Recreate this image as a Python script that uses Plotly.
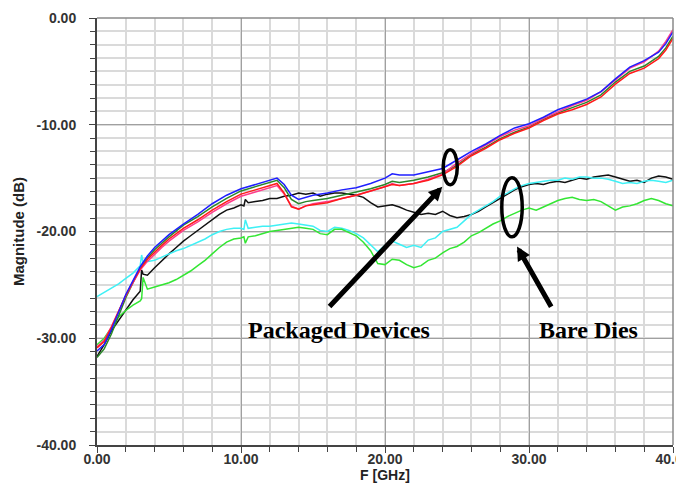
import plotly.graph_objects as go

# ---------------- data ----------------
F_PKG = [0, 0.5, 1, 1.5, 2, 2.5, 3, 3.5, 4, 4.5, 5,
         6, 7, 8, 9, 10, 11, 12,
         12.5, 13, 13.5, 14, 14.5, 15,
         16, 17, 18, 19, 20,
         20.5,
         21, 22, 23, 24, 25, 26, 27, 28, 29, 30, 31, 32, 33, 34, 35, 36, 37, 38, 39,
         39.5, 40]

PKG_BLUE = [-31.2, -30.6, -29.2, -27.5, -25.9, -24.6, -23.3, -22.3, -21.5, -20.9, -20.3,
            -19.3, -18.4, -17.4, -16.6, -16.0, -15.6, -15.2,
            -15.0, -15.6, -16.6, -17.0, -16.8, -16.6,
            -16.4, -16.1, -15.9, -15.5, -15.0,
            -14.6,
            -14.7, -14.7, -14.4, -14.1, -13.3, -12.5, -11.8, -11.0, -10.3, -9.9, -9.3, -8.6, -8.1, -7.6, -6.9, -5.7, -4.6, -4.0, -3.2,
            -2.4, -1.3]

PKG_RED = [-30.9, -30.3, -29.0, -27.5, -26.0, -24.7, -23.5, -22.6, -21.9, -21.3, -20.7,
           -19.7, -18.9, -18.0, -17.2, -16.5, -16.1, -15.7,
           -15.5, -16.4, -17.7, -17.9, -17.6, -17.5,
           -17.3, -16.9, -16.6, -16.2, -15.8,
           -15.6,
           -15.7, -15.5, -15.2, -14.7, -13.9, -12.9, -12.2, -11.4, -10.8, -10.3, -9.6, -9.0, -8.6, -8.1, -7.4, -6.2, -5.2, -4.7, -3.8,
           -3.0, -1.9]

PKG_PINK = [-30.8, -30.2, -28.9, -27.4, -26.0, -24.8, -23.6, -22.8, -22.1, -21.5, -20.9,
            -19.9, -19.1, -18.2, -17.4, -16.7, -16.3, -15.9,
            -15.7, -16.5, -17.6, -17.9, -17.6, -17.4,
            -17.2, -16.9, -16.6, -16.2, -15.8,
            -15.5,
            -15.7, -15.5, -15.1, -14.6, -13.6, -12.7, -11.9, -11.1, -10.5, -10.1, -9.4, -8.8, -8.2, -7.7, -6.9, -5.8, -4.7, -4.1, -3.1,
            -2.2, -1.1]

PKG_DKGREEN = [-31.8, -31.0, -29.6, -27.8, -26.2, -24.8, -23.5, -22.5, -21.7, -21.1, -20.5,
               -19.4, -18.6, -17.7, -16.9, -16.2, -15.8, -15.4,
               -15.2, -15.9, -17.0, -17.4, -17.2, -17.1,
               -16.9, -16.6, -16.3, -16.0, -15.6,
               -15.3,
               -15.4, -15.2, -14.9, -14.5, -13.8, -12.8, -12.1, -11.3, -10.7, -10.2, -9.5, -8.9, -8.4, -7.9, -7.2, -6.0, -5.0, -4.5, -3.6,
               -2.8, -1.7]

F_BARE = [0, 0.5, 1, 1.5, 2, 2.5, 3,
          3.1, 3.2,
          3.5, 4, 4.5, 5, 5.5, 6, 6.5, 7, 7.5, 8, 8.5, 9, 9.5, 10,
          10.2, 10.3,
          10.5, 11, 11.5, 12, 12.5, 13, 13.5, 14, 14.5, 15,
          15.5, 16, 16.5, 17, 17.5, 18, 18.5, 19, 19.5, 20,
          20.5, 21, 21.5, 22, 22.5, 23, 23.5, 24, 24.5, 25,
          25.5, 26, 26.5, 27, 27.5, 28, 28.5, 29, 29.5, 30,
          30.5, 31, 31.5, 32, 32.5, 33, 33.5, 34, 34.5, 35,
          35.5, 36, 36.5, 37, 37.5, 38, 38.5, 39, 39.5, 40]

BARE_BLACK = [-31.7, -30.6, -29.3, -28.3, -27.3, -26.4, -25.6,
              -23.6, -24.0,
              -24.1, -23.4, -22.7, -22.1, -21.5, -20.9, -20.4, -19.9, -19.4, -18.9, -18.4, -18.0, -17.8, -17.5,
              -17.6, -17.0,
              -17.3, -17.2, -17.1, -16.9, -16.9, -16.7, -16.6, -16.4, -16.5, -16.4,
              -16.7, -16.5, -16.4, -16.4, -16.5, -16.6, -16.8, -17.3, -17.7, -17.6,
              -17.5, -17.7, -18.0, -18.2, -18.4, -18.3, -18.4, -18.1, -18.5, -18.7,
              -18.6, -18.4, -18.1, -17.7, -17.3, -16.9, -16.5, -16.1, -15.8, -15.6,
              -15.5, -15.6, -15.4, -15.3, -15.4, -15.2, -15.0, -15.1, -14.9, -14.8,
              -14.7, -14.9, -15.1, -15.3, -15.2, -15.4, -15.0, -14.8, -14.9, -15.1]

BARE_CYAN = [-26.1, -25.7, -25.3, -24.9, -24.4, -23.9, -23.2,
             -22.2, -22.9,
             -22.8, -22.7, -22.4, -22.1, -21.8, -21.6, -21.3, -21.0, -20.7, -20.3, -20.0, -19.8, -19.7, -19.7,
             -19.8, -18.9,
             -19.7, -19.6, -19.5, -19.5, -19.4, -19.3, -19.2, -19.3, -19.4, -19.5,
             -19.9, -20.0, -19.6, -19.7, -19.9, -20.2, -20.6, -21.3, -21.9, -21.3,
             -20.9, -21.2, -21.5, -21.3, -21.5, -20.8, -20.6, -20.0, -19.8, -19.6,
             -19.0, -18.4, -18.0, -17.6, -17.2, -16.7, -16.4, -16.0, -15.7, -15.5,
             -15.4, -15.3, -15.2, -15.2, -15.0, -15.1, -14.9, -14.9, -15.0, -15.0,
             -15.1, -15.3, -15.5, -15.4, -15.5, -15.3, -15.2, -15.3, -15.4, -15.2]

BARE_GREEN = [-30.6, -30.0, -29.0, -28.0, -27.4, -26.9, -26.5,
              -26.3, -24.3,
              -25.4, -25.2, -25.0, -24.8, -24.5, -24.1, -23.7, -23.2, -22.7, -22.1, -21.5, -21.0, -20.7, -20.6,
              -20.5, -21.1,
              -20.5, -20.4, -20.2, -20.0, -19.9, -19.8, -19.7, -19.6, -19.7, -19.8,
              -20.2, -20.3, -19.8, -19.8, -20.1, -20.4, -21.0, -21.8, -23.0, -23.1,
              -22.6, -22.7, -23.1, -23.4, -23.2, -22.7, -22.5, -22.0, -21.6, -21.4,
              -21.0, -20.4, -20.1, -19.7, -19.3, -19.0, -18.6, -18.3, -18.0, -17.8,
              -18.0, -17.7, -17.4, -17.1, -16.9, -16.8, -17.0, -17.1, -17.0, -17.2,
              -17.6, -18.0, -17.7, -17.6, -17.4, -17.1, -16.9, -17.1, -17.4, -17.6]

X_TICKS = [0, 10, 20, 30, 40]
X_TICK_TEXT = ["0.00", "10.00", "20.00", "30.00", "40.00"]
Y_TICKS = [-40, -30, -20, -10, 0]
Y_TICK_TEXT = ["-40.00", "-30.00", "-20.00", "-10.00", "0.00"]

# ---------------- figure ----------------
fig = go.Figure()

series = [
    (F_BARE, BARE_BLACK, "#111111"),
    (F_BARE, BARE_CYAN, "#3ff0f5"),
    (F_BARE, BARE_GREEN, "#33e633"),
    (F_PKG, PKG_DKGREEN, "#2a872a"),
    (F_PKG, PKG_PINK, "#ff3c8c"),
    (F_PKG, PKG_RED, "#ff1a1a"),
    (F_PKG, PKG_BLUE, "#1f1fff"),
]
for xs, ys, col in series:
    fig.add_trace(go.Scatter(x=xs, y=ys, mode="lines",
                             line=dict(color=col, width=1.5),
                             hoverinfo="skip"))

tickfont = dict(family="Liberation Sans, Arial, sans-serif", size=14,
                color="#333333", weight="bold")
xtitlefont = dict(family="Liberation Sans, Arial, sans-serif", size=14,
                  color="#222222", weight="bold")
ytitlefont = dict(family="Liberation Sans, Arial, sans-serif", size=15,
                  color="#222222", weight="bold")

fig.update_xaxes(
    range=[0, 40], tickmode="array", tickvals=X_TICKS, ticktext=X_TICK_TEXT,
    ticks="outside", ticklen=6, tickwidth=1, tickcolor="#444444",
    showline=True, linecolor="#444444", linewidth=2,
    showgrid=True, gridcolor="#a0a0a0", gridwidth=1, zeroline=False,
    minor=dict(dtick=2, tick0=0, showgrid=True, gridcolor="#dadada", gridwidth=1.5,
               ticks="outside", ticklen=5, tickcolor="#444444"),
    tickfont=tickfont, ticklabeloverflow="allow", ticklabelstandoff=-6, automargin=False,
    title=dict(text="F [GHz]", font=xtitlefont, standoff=3),
)
fig.update_yaxes(
    range=[-40, 0], tickmode="array", tickvals=Y_TICKS, ticktext=Y_TICK_TEXT,
    ticks="outside", ticklen=6, tickwidth=1, tickcolor="#444444",
    showline=True, linecolor="#444444", linewidth=2,
    showgrid=True, gridcolor="#a0a0a0", gridwidth=1, zeroline=False,
    minor=dict(dtick=1.25, tick0=0, showgrid=True, gridcolor="#dadada", gridwidth=1.5,
               ticks="outside", ticklen=5, tickcolor="#444444"),
    tickfont=tickfont, ticklabelstandoff=10, ticklabeloverflow="allow", automargin=False,
    title=dict(text="Magnitude (dB)", font=ytitlefont, standoff=8),
)

shapes = [
    dict(type="line", xref="paper", yref="paper", x0=0, x1=1, y0=1, y1=1,
         line=dict(color="#8a8a8a", width=1.5)),
    dict(type="line", xref="paper", yref="paper", x0=1, x1=1, y0=0, y1=1,
         line=dict(color="#8a8a8a", width=1.5)),
    dict(type="circle", xref="x", yref="y", x0=24.04, x1=25.02, y0=-15.62, y1=-12.34,
         line=dict(color="black", width=3.5)),
    dict(type="circle", xref="x", yref="y", x0=28.11, x1=29.53, y0=-20.50, y1=-14.96,
         line=dict(color="black", width=3.5)),
]

label_font = dict(family="Liberation Serif, Times New Roman, serif", size=24,
                  color="black", weight="bold")
annotations = [
    dict(x=23.98, y=-15.81, ax=16.05, ay=-27.16, xref="x", yref="y", axref="x", ayref="y",
         showarrow=True, arrowhead=2, arrowsize=0.55, arrowwidth=5, arrowcolor="black", text=""),
    dict(x=29.17, y=-21.41, ax=31.6, ay=-27.19, xref="x", yref="y", axref="x", ayref="y",
         showarrow=True, arrowhead=2, arrowsize=0.55, arrowwidth=5, arrowcolor="black", text=""),
    dict(x=16.82, y=-29.2, xref="x", yref="y", text="Packaged Devices", showarrow=False,
         font=label_font, xanchor="center", yanchor="middle"),
    dict(x=34.12, y=-29.2, xref="x", yref="y", text="Bare Dies", showarrow=False,
         font=label_font, xanchor="center", yanchor="middle"),
]

# the page body adds an 8px margin, so the figure is 8px smaller to fit the window
fig.update_layout(
    width=676, height=483,
    margin=dict(l=89, r=11, t=10, b=46, autoexpand=False),
    plot_bgcolor="white", paper_bgcolor="white",
    showlegend=False, shapes=shapes, annotations=annotations,
)

fig.write_html("out.html")
